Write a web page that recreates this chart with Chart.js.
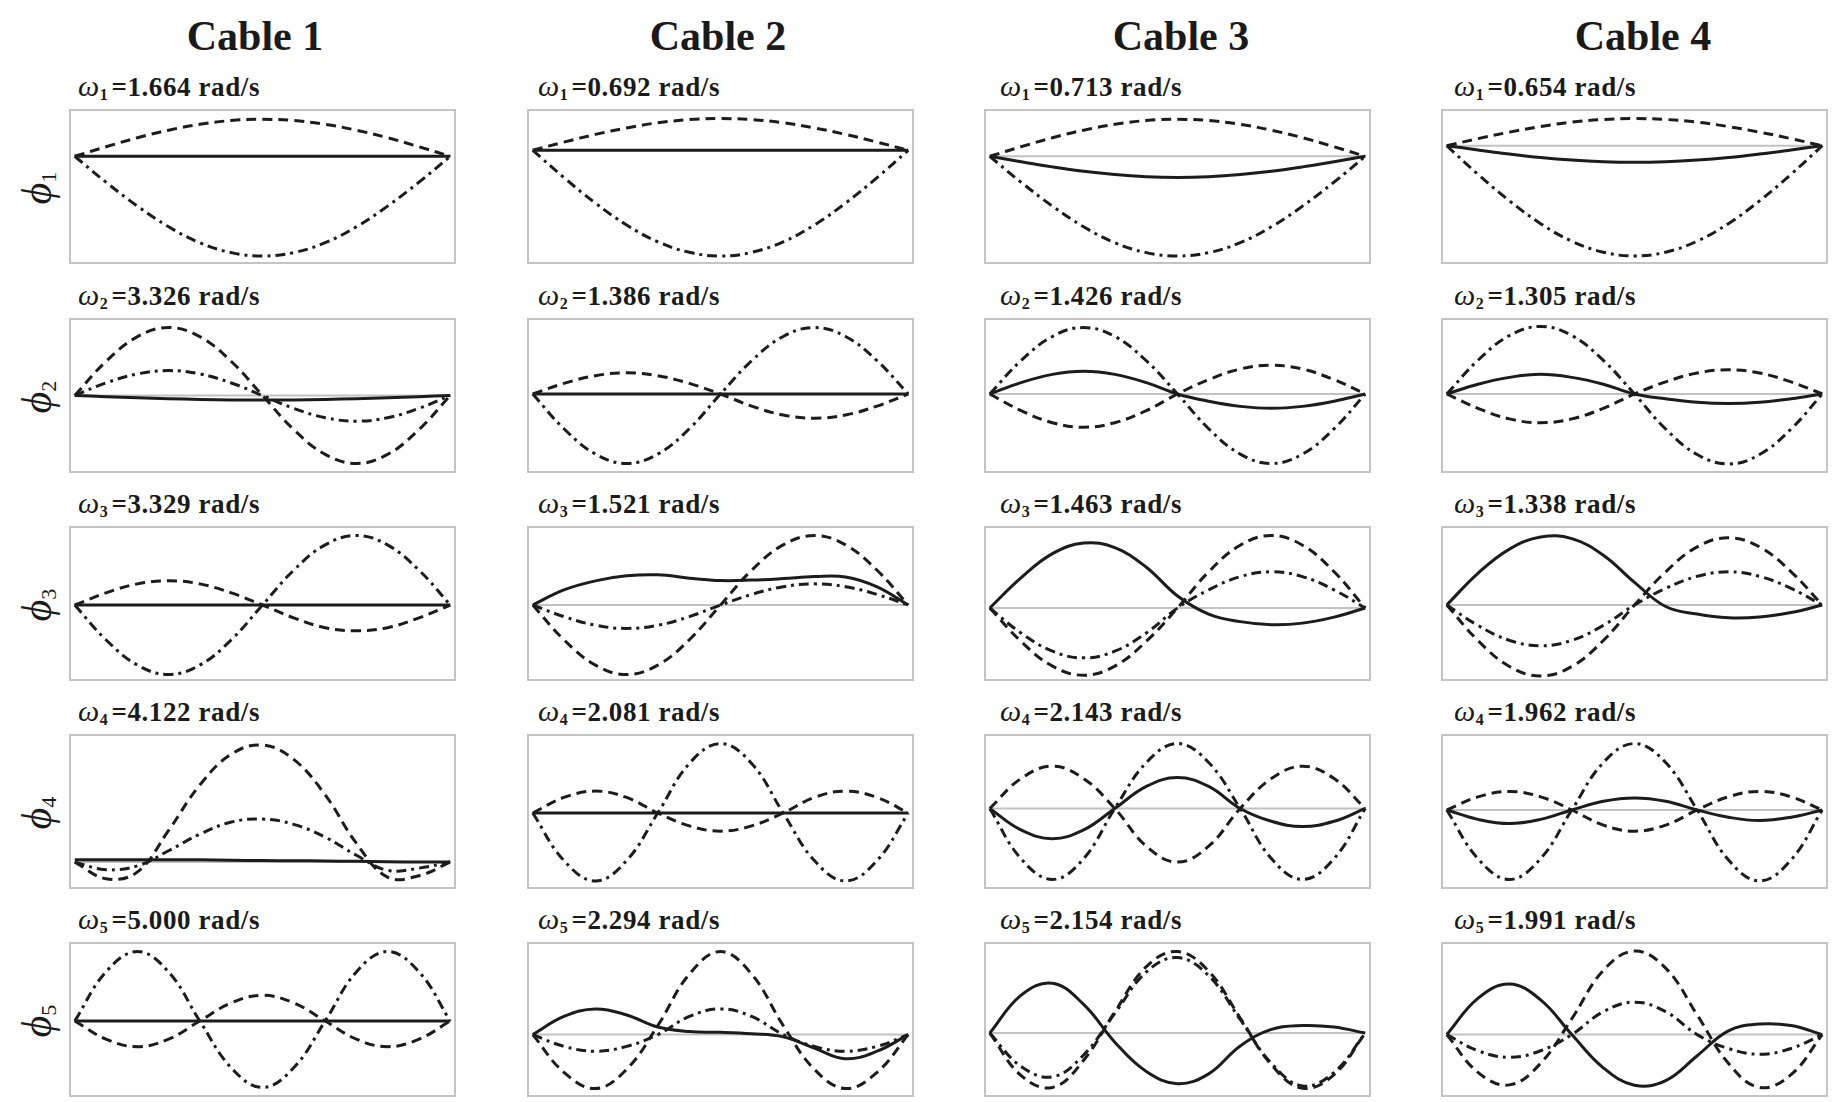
<!DOCTYPE html>
<html>
<head>
<meta charset="utf-8">
<script src="https://cdn.jsdelivr.net/npm/chart.js@4.4.1/dist/chart.umd.min.js"></script>
<style>
  html, body { margin: 0; padding: 0; background: #fff; }
  #fig { position: relative; width: 1833px; height: 1102px; overflow: hidden; font-family: "Liberation Serif", "DejaVu Serif", serif; color: #1a1a1a; }
  .panel { position: absolute; box-sizing: border-box; border: 2px solid #c4c4c4; }
  .panel canvas { position: absolute; left: 0; top: 0; }
  .title { position: absolute; width: 300px; text-align: center; font-weight: bold; font-size: 42px; line-height: 1; }
  .omega { position: absolute; font-weight: bold; font-size: 27px; line-height: 1; white-space: nowrap; letter-spacing: 0.6px; }
  .omega .w { font-weight: normal; font-style: italic; font-size: 30px; }
  .omega sub { font-size: 16px; vertical-align: -4px; margin-right: 3px; }
  .phi { position: absolute; width: 70px; text-align: center; font-style: italic; font-size: 42px; line-height: 1; transform: rotate(-90deg); }
  .phi sub { font-size: 22px; font-style: normal; vertical-align: -5px; }
</style>
</head>
<body>
<div id="fig"></div>
<script>
// positions along the cable (0 = left anchor, 1 = right anchor)
const stations = [0, 0.083, 0.167, 0.25, 0.333, 0.417, 0.5, 0.583, 0.667, 0.75, 0.833, 0.917, 1];

const cables = ['Cable 1', 'Cable 2', 'Cable 3', 'Cable 4'];
const modes = [1, 2, 3, 4, 5];

// natural frequencies, rad/s
const cable1Omega = [1.664, 3.326, 3.329, 4.122, 5.000];
const cable2Omega = [0.692, 1.386, 1.521, 2.081, 2.294];
const cable3Omega = [0.713, 1.426, 1.463, 2.143, 2.154];
const cable4Omega = [0.654, 1.305, 1.338, 1.962, 1.991];

// rest level of each mode plot (fraction of the box height)
const cable1Base = [0.70, 0.50, 0.49, 0.165, 0.49];
const cable2Base = [0.74, 0.51, 0.49, 0.49, 0.40];
const cable3Base = [0.70, 0.51, 0.47, 0.52, 0.41];
const cable4Base = [0.77, 0.51, 0.49, 0.51, 0.40];

// mode shape components, one row per mode
const cable1Solid = [
  [0.70, 0.70, 0.70, 0.70, 0.70, 0.70, 0.70, 0.70, 0.70, 0.70, 0.70, 0.70, 0.70],
  [0.50, 0.492, 0.485, 0.479, 0.474, 0.471, 0.47, 0.471, 0.474, 0.479, 0.485, 0.492, 0.50],
  [0.49, 0.49, 0.49, 0.49, 0.49, 0.49, 0.49, 0.49, 0.49, 0.49, 0.49, 0.49, 0.49],
  [0.18, 0.18, 0.18, 0.18, 0.18, 0.177, 0.175, 0.174, 0.172, 0.17, 0.167, 0.165, 0.165],
  [0.49, 0.49, 0.49, 0.49, 0.49, 0.49, 0.49, 0.49, 0.49, 0.49, 0.49, 0.49, 0.49]
];
const cable1Dashed = [
  [0.70, 0.763, 0.823, 0.873, 0.912, 0.937, 0.945, 0.937, 0.912, 0.873, 0.823, 0.763, 0.70],
  [0.50, 0.725, 0.89, 0.95, 0.89, 0.725, 0.50, 0.275, 0.11, 0.05, 0.11, 0.275, 0.50],
  [0.49, 0.57, 0.63, 0.65, 0.63, 0.57, 0.49, 0.405, 0.34, 0.32, 0.34, 0.405, 0.49],
  [0.165, 0.055, 0.10, 0.375, 0.675, 0.88, 0.94, 0.845, 0.61, 0.29, 0.065, 0.075, 0.165],
  [0.49, 0.37, 0.32, 0.37, 0.49, 0.61, 0.66, 0.61, 0.49, 0.37, 0.32, 0.37, 0.49]
];
const cable1DashDot = [
  [0.70, 0.529, 0.37, 0.233, 0.128, 0.062, 0.04, 0.062, 0.128, 0.233, 0.37, 0.529, 0.70],
  [0.50, 0.583, 0.643, 0.665, 0.643, 0.583, 0.50, 0.415, 0.353, 0.33, 0.353, 0.415, 0.50],
  [0.49, 0.26, 0.092, 0.03, 0.092, 0.26, 0.49, 0.72, 0.888, 0.95, 0.888, 0.72, 0.49],
  [0.165, 0.115, 0.14, 0.24, 0.35, 0.43, 0.45, 0.415, 0.33, 0.21, 0.11, 0.125, 0.165],
  [0.49, 0.815, 0.95, 0.815, 0.49, 0.18, 0.05, 0.18, 0.49, 0.815, 0.95, 0.815, 0.49]
];

const cable2Solid = [
  [0.74, 0.74, 0.74, 0.74, 0.74, 0.74, 0.74, 0.74, 0.74, 0.74, 0.74, 0.74, 0.74],
  [0.51, 0.51, 0.51, 0.51, 0.51, 0.51, 0.51, 0.51, 0.51, 0.51, 0.51, 0.51, 0.51],
  [0.49, 0.59, 0.65, 0.683, 0.69, 0.668, 0.652, 0.655, 0.665, 0.678, 0.675, 0.61, 0.49],
  [0.49, 0.49, 0.49, 0.49, 0.49, 0.49, 0.49, 0.49, 0.49, 0.49, 0.49, 0.49, 0.49],
  [0.40, 0.52, 0.57, 0.53, 0.45, 0.42, 0.415, 0.405, 0.385, 0.31, 0.24, 0.29, 0.40]
];
const cable2Dashed = [
  [0.74, 0.794, 0.845, 0.888, 0.922, 0.943, 0.95, 0.943, 0.922, 0.888, 0.845, 0.794, 0.74],
  [0.51, 0.58, 0.631, 0.65, 0.631, 0.58, 0.51, 0.43, 0.371, 0.35, 0.371, 0.43, 0.51],
  [0.49, 0.26, 0.092, 0.03, 0.092, 0.26, 0.49, 0.72, 0.888, 0.95, 0.888, 0.72, 0.49],
  [0.49, 0.593, 0.635, 0.593, 0.49, 0.405, 0.37, 0.405, 0.49, 0.593, 0.635, 0.593, 0.49],
  [0.40, 0.15, 0.043, 0.17, 0.46, 0.80, 0.95, 0.80, 0.46, 0.17, 0.043, 0.15, 0.40]
];
const cable2DashDot = [
  [0.74, 0.559, 0.39, 0.245, 0.134, 0.064, 0.04, 0.064, 0.134, 0.245, 0.39, 0.559, 0.74],
  [0.51, 0.28, 0.112, 0.05, 0.112, 0.28, 0.51, 0.73, 0.891, 0.95, 0.891, 0.73, 0.51],
  [0.49, 0.413, 0.356, 0.335, 0.356, 0.413, 0.49, 0.56, 0.611, 0.63, 0.611, 0.56, 0.49],
  [0.49, 0.175, 0.04, 0.175, 0.49, 0.818, 0.95, 0.818, 0.49, 0.175, 0.04, 0.175, 0.49],
  [0.40, 0.322, 0.29, 0.322, 0.40, 0.52, 0.57, 0.52, 0.40, 0.322, 0.29, 0.322, 0.40]
];

const cable3Solid = [
  [0.70, 0.664, 0.63, 0.601, 0.579, 0.565, 0.56, 0.565, 0.579, 0.601, 0.63, 0.664, 0.70],
  [0.51, 0.585, 0.64, 0.66, 0.64, 0.585, 0.51, 0.462, 0.428, 0.415, 0.428, 0.462, 0.51],
  [0.47, 0.67, 0.83, 0.90, 0.87, 0.74, 0.55, 0.43, 0.38, 0.36, 0.37, 0.41, 0.47],
  [0.52, 0.378, 0.32, 0.378, 0.52, 0.666, 0.725, 0.666, 0.52, 0.435, 0.40, 0.435, 0.52],
  [0.41, 0.66, 0.74, 0.60, 0.35, 0.155, 0.075, 0.14, 0.325, 0.435, 0.46, 0.45, 0.41]
];
const cable3Dashed = [
  [0.70, 0.763, 0.823, 0.873, 0.912, 0.937, 0.945, 0.937, 0.912, 0.873, 0.823, 0.763, 0.70],
  [0.51, 0.40, 0.32, 0.29, 0.32, 0.40, 0.51, 0.605, 0.675, 0.70, 0.675, 0.605, 0.51],
  [0.47, 0.25, 0.085, 0.025, 0.085, 0.25, 0.47, 0.71, 0.886, 0.95, 0.886, 0.71, 0.47],
  [0.52, 0.718, 0.80, 0.718, 0.52, 0.27, 0.165, 0.27, 0.52, 0.718, 0.80, 0.718, 0.52],
  [0.41, 0.13, 0.05, 0.23, 0.55, 0.85, 0.95, 0.82, 0.51, 0.20, 0.045, 0.135, 0.41]
];
const cable3DashDot = [
  [0.70, 0.529, 0.37, 0.233, 0.128, 0.062, 0.04, 0.062, 0.128, 0.233, 0.37, 0.529, 0.70],
  [0.51, 0.73, 0.891, 0.95, 0.891, 0.73, 0.51, 0.28, 0.112, 0.05, 0.112, 0.28, 0.51],
  [0.47, 0.305, 0.184, 0.14, 0.184, 0.305, 0.47, 0.59, 0.678, 0.71, 0.678, 0.59, 0.47],
  [0.52, 0.188, 0.05, 0.188, 0.52, 0.824, 0.95, 0.824, 0.52, 0.188, 0.05, 0.188, 0.52],
  [0.41, 0.19, 0.12, 0.265, 0.54, 0.815, 0.91, 0.79, 0.50, 0.21, 0.06, 0.15, 0.41]
];

const cable4Solid = [
  [0.77, 0.742, 0.715, 0.692, 0.675, 0.664, 0.66, 0.664, 0.675, 0.692, 0.715, 0.742, 0.77],
  [0.51, 0.575, 0.62, 0.64, 0.62, 0.575, 0.51, 0.478, 0.455, 0.447, 0.455, 0.478, 0.51],
  [0.49, 0.70, 0.86, 0.94, 0.93, 0.82, 0.64, 0.48, 0.43, 0.405, 0.41, 0.44, 0.49],
  [0.51, 0.448, 0.42, 0.448, 0.51, 0.568, 0.59, 0.568, 0.51, 0.462, 0.44, 0.462, 0.51],
  [0.40, 0.64, 0.735, 0.63, 0.40, 0.18, 0.065, 0.095, 0.26, 0.425, 0.47, 0.46, 0.40]
];
const cable4Dashed = [
  [0.77, 0.817, 0.86, 0.897, 0.926, 0.944, 0.95, 0.944, 0.926, 0.897, 0.86, 0.817, 0.77],
  [0.51, 0.415, 0.345, 0.32, 0.345, 0.415, 0.51, 0.59, 0.649, 0.67, 0.649, 0.59, 0.51],
  [0.49, 0.255, 0.083, 0.02, 0.083, 0.255, 0.49, 0.71, 0.875, 0.935, 0.875, 0.71, 0.49],
  [0.51, 0.597, 0.633, 0.597, 0.51, 0.41, 0.37, 0.41, 0.51, 0.597, 0.633, 0.597, 0.51],
  [0.40, 0.15, 0.067, 0.21, 0.505, 0.825, 0.953, 0.84, 0.53, 0.21, 0.05, 0.135, 0.40]
];
const cable4DashDot = [
  [0.77, 0.581, 0.405, 0.254, 0.138, 0.065, 0.04, 0.065, 0.138, 0.254, 0.405, 0.581, 0.77],
  [0.51, 0.733, 0.897, 0.957, 0.897, 0.733, 0.51, 0.278, 0.109, 0.047, 0.109, 0.278, 0.51],
  [0.49, 0.355, 0.256, 0.22, 0.256, 0.355, 0.49, 0.60, 0.68, 0.71, 0.68, 0.60, 0.49],
  [0.51, 0.188, 0.05, 0.188, 0.51, 0.824, 0.95, 0.824, 0.51, 0.18, 0.04, 0.18, 0.51],
  [0.40, 0.293, 0.25, 0.293, 0.40, 0.552, 0.615, 0.552, 0.40, 0.308, 0.27, 0.308, 0.40]
];

const omegas = [cable1Omega, cable2Omega, cable3Omega, cable4Omega];
const bases = [cable1Base, cable2Base, cable3Base, cable4Base];
const solids = [cable1Solid, cable2Solid, cable3Solid, cable4Solid];
const dashes = [cable1Dashed, cable2Dashed, cable3Dashed, cable4Dashed];
const dashDots = [cable1DashDot, cable2DashDot, cable3DashDot, cable4DashDot];

// grid layout in page pixels
const colLeft = [69, 527, 984, 1441];
const rowTop = [109, 318, 526, 734, 942];
const boxW = 387;
const boxH = 155;
const labelInset = [9, 11, 16, 13];
const titleCenter = [255, 718, 1181, 1643];

const fig = document.getElementById('fig');
const ink = '#1c1c1c';

function toPoints(ys) {
  const pts = [];
  for (let i = 0; i < ys.length; i++) pts.push({ x: stations[i], y: ys[i] });
  return pts;
}

for (let c = 0; c < cables.length; c++) {
  const t = document.createElement('div');
  t.className = 'title';
  t.textContent = cables[c];
  t.style.left = (titleCenter[c] - 150) + 'px';
  t.style.top = '15px';
  fig.appendChild(t);
}

for (let r = 0; r < modes.length; r++) {
  const p = document.createElement('div');
  p.className = 'phi';
  p.innerHTML = 'ϕ<sub>' + modes[r] + '</sub>';
  p.style.left = (38 - 35) + 'px';
  p.style.top = (rowTop[r] + boxH / 2 - 21) + 'px';
  fig.appendChild(p);
}

for (let c = 0; c < cables.length; c++) {
  for (let r = 0; r < modes.length; r++) {
    const lab = document.createElement('div');
    lab.className = 'omega';
    lab.innerHTML = '<span class="w">ω</span><sub>' + modes[r] + '</sub>=' +
      omegas[c][r].toFixed(3) + ' rad/s';
    lab.style.left = (colLeft[c] + labelInset[c]) + 'px';
    lab.style.top = (rowTop[r] - 38) + 'px';
    fig.appendChild(lab);

    const box = document.createElement('div');
    box.className = 'panel';
    box.style.left = colLeft[c] + 'px';
    box.style.top = rowTop[r] + 'px';
    box.style.width = boxW + 'px';
    box.style.height = boxH + 'px';
    const cv = document.createElement('canvas');
    cv.width = boxW - 4;
    cv.height = boxH - 4;
    box.appendChild(cv);
    fig.appendChild(box);

    const b = bases[c][r];
    new Chart(cv.getContext('2d'), {
      type: 'line',
      data: {
        datasets: [
          {
            data: toPoints(solids[c][r]),
            borderColor: ink,
            borderWidth: 3
          },
          {
            data: toPoints(dashes[c][r]),
            borderColor: ink,
            borderWidth: 3,
            borderDash: [10, 6]
          },
          {
            data: toPoints(dashDots[c][r]),
            borderColor: ink,
            borderWidth: 3,
            borderDash: [10, 5, 3, 5]
          },
          {
            data: [{ x: 0, y: b }, { x: 1, y: b }],
            borderColor: '#c2c2c2',
            borderWidth: 2
          }
        ]
      },
      options: {
        responsive: false,
        animation: false,
        events: [],
        layout: { padding: 0 },
        elements: {
          point: { radius: 0 },
          line: { tension: 0.4, fill: false, capBezierPoints: true }
        },
        scales: {
          x: { type: 'linear', min: -0.01, max: 1.01, display: false },
          y: { min: 0, max: 1, display: false }
        },
        plugins: {
          legend: { display: false },
          tooltip: { enabled: false }
        }
      }
    });
  }
}
</script>
</body>
</html>
